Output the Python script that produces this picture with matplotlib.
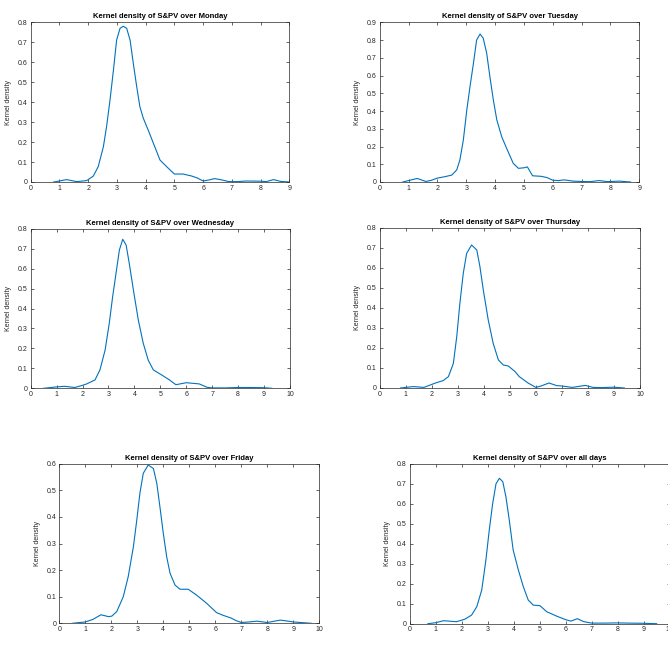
import numpy as np
import matplotlib.pyplot as plt
from matplotlib.ticker import FormatStrFormatter

plt.rcParams['font.family'] = ['Liberation Sans', 'DejaVu Sans']

# density values (x, kernel density)
mon_x = [0.8, 1.0, 1.25, 1.6, 1.95, 2.18, 2.35, 2.53, 2.64, 2.76, 2.88, 2.99, 3.11,
         3.22, 3.34, 3.46, 3.57, 3.69, 3.80, 3.92, 4.09, 4.27, 4.50, 4.73, 5.0, 5.3,
         5.6, 5.8, 6.0, 6.2, 6.4, 6.6, 6.9, 7.2, 7.5, 8.0, 8.2, 8.45, 8.7, 9.0]
mon_y = [0.0, 0.005, 0.012, 0.002, 0.007, 0.03, 0.077, 0.177, 0.277, 0.41, 0.561,
         0.711, 0.77, 0.78, 0.77, 0.71, 0.595, 0.477, 0.377, 0.319, 0.26, 0.194,
         0.11, 0.077, 0.04, 0.04, 0.03, 0.02, 0.005, 0.01, 0.017, 0.012, 0.002,
         0.002, 0.005, 0.004, 0.002, 0.012, 0.003, 0.0]

tue_x = [0.8, 1.0, 1.3, 1.6, 1.8, 2.0, 2.26, 2.50, 2.67, 2.78, 2.90, 3.02, 3.13,
         3.25, 3.36, 3.48, 3.59, 3.71, 3.82, 3.94, 4.06, 4.23, 4.40, 4.63, 4.81,
         5.0, 5.12, 5.3, 5.6, 5.8, 6.0, 6.2, 6.4, 6.7, 7.0, 7.3, 7.6, 7.9, 8.3, 8.7]
tue_y = [0.0, 0.008, 0.02, 0.003, 0.01, 0.022, 0.03, 0.039, 0.068, 0.124, 0.237,
         0.406, 0.537, 0.669, 0.80, 0.834, 0.81, 0.725, 0.594, 0.462, 0.35, 0.255,
         0.19, 0.105, 0.077, 0.08, 0.085, 0.035, 0.032, 0.025, 0.01, 0.008, 0.012,
         0.005, 0.003, 0.002, 0.008, 0.002, 0.005, 0.0]

wed_x = [0.5, 1.0, 1.3, 1.7, 2.0, 2.16, 2.48, 2.67, 2.87, 3.03, 3.16, 3.29, 3.42,
         3.55, 3.68, 3.80, 3.96, 4.15, 4.34, 4.53, 4.73, 5.05, 5.35, 5.6, 6.0, 6.5,
         6.8, 7.0, 7.5, 8.0, 8.5, 9.0, 9.3]
wed_y = [0.0, 0.007, 0.01, 0.004, 0.015, 0.022, 0.042, 0.092, 0.192, 0.326, 0.459,
         0.576, 0.693, 0.747, 0.718, 0.627, 0.493, 0.342, 0.226, 0.142, 0.092,
         0.067, 0.042, 0.018, 0.028, 0.022, 0.005, 0.002, 0.002, 0.004, 0.004,
         0.003, 0.0]

thu_x = [0.8, 1.0, 1.3, 1.7, 2.0, 2.19, 2.44, 2.64, 2.83, 2.96, 3.08, 3.21, 3.34,
         3.53, 3.73, 3.85, 3.98, 4.17, 4.36, 4.56, 4.75, 4.94, 5.2, 5.36, 5.7, 6.0,
         6.2, 6.5, 6.8, 7.0, 7.4, 7.9, 8.2, 8.5, 9.0, 9.4]
thu_y = [0.0, 0.003, 0.007, 0.003, 0.018, 0.027, 0.037, 0.057, 0.123, 0.257, 0.423,
         0.573, 0.673, 0.715, 0.69, 0.607, 0.49, 0.34, 0.223, 0.14, 0.115, 0.11,
         0.082, 0.057, 0.025, 0.003, 0.01, 0.025, 0.012, 0.01, 0.003, 0.013, 0.003,
         0.002, 0.004, 0.0]

fri_x = [0.5, 1.0, 1.3, 1.6, 1.9, 2.02, 2.21, 2.46, 2.65, 2.85, 2.98, 3.10, 3.23,
         3.42, 3.62, 3.75, 3.87, 4.0, 4.13, 4.26, 4.45, 4.64, 4.96, 5.28, 5.67,
         6.05, 6.3, 6.6, 6.8, 7.0, 7.3, 7.6, 8.0, 8.5, 8.8, 9.0, 9.7]
fri_y = [0.0, 0.005, 0.015, 0.032, 0.025, 0.027, 0.044, 0.1, 0.175, 0.288, 0.388,
         0.489, 0.564, 0.595, 0.582, 0.526, 0.438, 0.338, 0.25, 0.188, 0.144,
         0.128, 0.128, 0.106, 0.075, 0.04, 0.03, 0.02, 0.01, 0.003, 0.005, 0.008,
         0.003, 0.012, 0.008, 0.005, 0.0]

all_x = [0.7, 1.0, 1.3, 1.8, 2.13, 2.38, 2.58, 2.77, 2.93, 3.06, 3.19, 3.32, 3.45,
         3.58, 3.70, 3.83, 3.98, 4.18, 4.37, 4.56, 4.75, 5.01, 5.27, 5.65, 6.0,
         6.2, 6.45, 6.7, 7.0, 7.5, 8.0, 8.4, 9.0, 9.5]
all_y = [0.0, 0.005, 0.015, 0.01, 0.023, 0.043, 0.085, 0.168, 0.318, 0.468, 0.60,
         0.70, 0.727, 0.71, 0.635, 0.518, 0.368, 0.268, 0.185, 0.118, 0.093, 0.09,
         0.06, 0.038, 0.02, 0.013, 0.025, 0.01, 0.003, 0.003, 0.004, 0.003, 0.002,
         0.0]

titles = ['Monday', 'Tuesday', 'Wednesday', 'Thursday', 'Friday', 'all days']
xs = [mon_x, tue_x, wed_x, thu_x, fri_x, all_x]
ys = [mon_y, tue_y, wed_y, thu_y, fri_y, all_y]
xmax = [9, 9, 10, 10, 10, 10]
ymax = [0.8, 0.9, 0.8, 0.8, 0.6, 0.8]

W, H = 668, 654
# axes boxes in pixels: left, top, right, bottom
boxes = [(30.7, 22.3, 289.3, 182.0),
         (379.7, 22.3, 639.3, 182.0),
         (30.7, 228.7, 290.0, 388.3),
         (379.7, 228.0, 640.0, 388.0),
         (59.3, 463.7, 319.3, 623.3),
         (409.7, 463.7, 669.7, 623.7)]

grey = '#262626'
fig = plt.figure(figsize=(W / 100, H / 100), dpi=100)

for i in range(6):
    l, t, r, b = boxes[i]
    ax = fig.add_axes([l / W, 1 - b / H, (r - l) / W, (b - t) / H])
    ax.plot(xs[i], ys[i], color='#0072BD', lw=0.8)
    ax.set_xlim(0, xmax[i])
    ax.set_ylim(0, ymax[i])
    ax.set_xticks(np.arange(0, xmax[i] + 1))
    ax.set_yticks(np.round(np.arange(0, ymax[i] + 0.001, 0.1), 1))
    ax.yaxis.set_major_formatter(FormatStrFormatter('%g'))
    ax.tick_params(direction='in', length=2.5, width=0.5, labelsize=5,
                   colors=grey, top=True, right=True, pad=2)
    for s in ax.spines.values():
        s.set_linewidth(0.5)
        s.set_color(grey)
    ax.set_title('Kernel density of S&PV over ' + titles[i], fontsize=5.5,
                 fontweight='bold', pad=3)
    ax.set_ylabel('Kernel density', fontsize=5, color=grey, labelpad=4)

fig.savefig('out.png', dpi=100)
